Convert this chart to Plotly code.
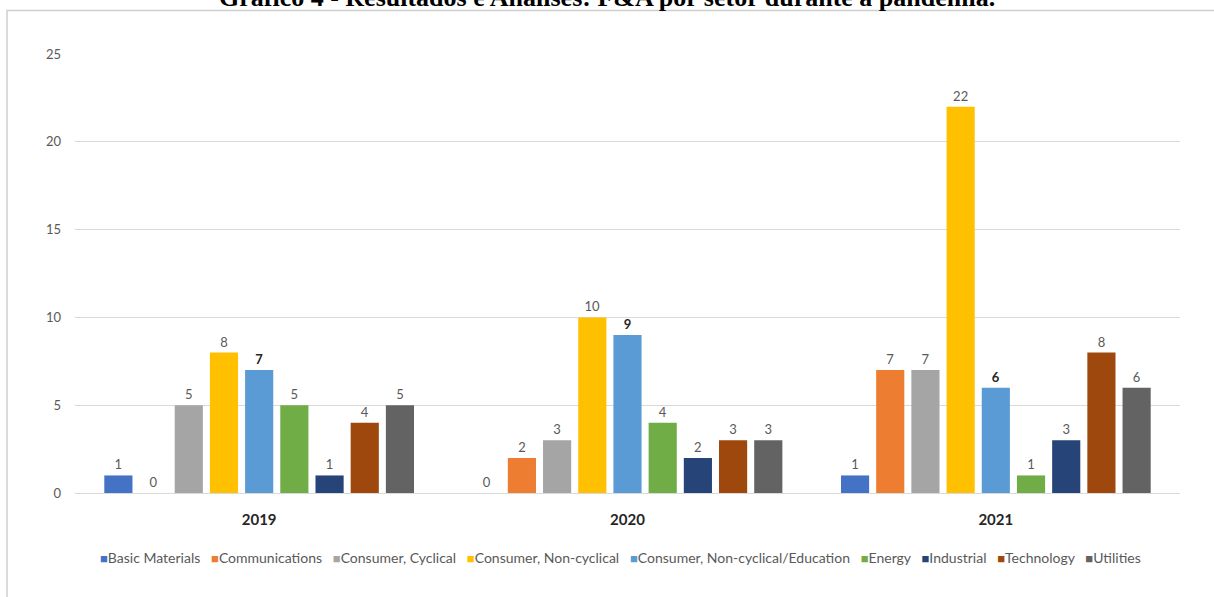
import plotly.graph_objects as go

years = ["2019", "2020", "2021"]
sectors = ["Basic Materials", "Communications", "Consumer, Cyclical",
           "Consumer, Non-cyclical", "Consumer, Non-cyclical/Education",
           "Energy", "Industrial", "Technology", "Utilities"]
basic_materials = [1, 0, 1]
communications = [0, 2, 7]
consumer_cyclical = [5, 3, 7]
consumer_noncyclical = [8, 10, 22]
education = [7, 9, 6]
energy = [5, 4, 1]
industrial = [1, 2, 3]
technology = [4, 3, 8]
utilities = [5, 3, 6]
series = [basic_materials, communications, consumer_cyclical, consumer_noncyclical,
          education, energy, industrial, technology, utilities]
colors = ["#4472C4", "#ED7D31", "#A5A5A5", "#FFC000", "#5B9BD5",
          "#70AD47", "#264478", "#9E480E", "#636363"]

FONT = "Lato, 'Open Sans', sans-serif"

L, R, T, B = 75, 1180, 54, 493
W, H = 1214, 597


def px_x(p):
    return (p - L) / (R - L)


def px_y(p):
    return (B - p) / (B - T)


fig = go.Figure()
for name, vals, col in zip(sectors, series, colors):
    bold = name == "Consumer, Non-cyclical/Education"
    fig.add_trace(go.Bar(
        x=years, y=vals, name=name, marker_color=col, marker_line_width=0,
        text=[f"<b>{v}</b>" if bold else str(v) for v in vals],
        textposition="outside", cliponaxis=False,
        textfont=dict(size=13, color="#262626" if bold else "#595959", family=FONT),
        showlegend=False,
    ))

# legend as one line of real text with coloured key squares
legend_html = "&nbsp;&nbsp;&nbsp;".join(
    f"<span style='color:{col};font-size:13px'>■</span>{name}"
    for name, col in zip(sectors, colors)
)
fig.add_annotation(text=legend_html, xref="paper", yref="paper",
                   x=px_x(620), y=px_y(557), xanchor="center", yanchor="middle",
                   showarrow=False, font=dict(size=14, color="#595959", family=FONT))

fig.update_layout(
    width=W, height=H,
    margin=dict(l=L, r=W - R, t=T, b=H - B, autoexpand=False),
    paper_bgcolor="white", plot_bgcolor="white",
    barmode="group", bargap=0.14, bargroupgap=0.2,
    showlegend=False,
    font=dict(family=FONT),
)
fig.update_yaxes(range=[0, 25], dtick=5, showgrid=True, gridcolor="#d9d9d9", gridwidth=1,
                 zeroline=True, zerolinecolor="#d9d9d9", zerolinewidth=1,
                 showline=False, ticks="", ticklabelstandoff=13,
                 tickfont=dict(size=13, color="#595959", family=FONT))
fig.update_xaxes(showgrid=False, showline=False, ticks="", ticklabelstandoff=16,
                 tickfont=dict(size=15, color="#262626", family=FONT),
                 tickprefix="<b>", ticksuffix="</b>")

# Frame around the chart area (cut by the page edges)
fig.add_shape(type="rect", xref="paper", yref="paper",
              x0=px_x(7), x1=px_x(1230), y0=px_y(620), y1=px_y(10.5),
              line=dict(color="#cfcfcf", width=1.5), fillcolor="rgba(0,0,0,0)", layer="below")

fig.add_annotation(text="<b>Gráfico 4 - Resultados e Análises: F&A por setor durante a pandemia.</b>",
                   xref="paper", yref="paper", x=px_x(607), y=px_y(14),
                   xanchor="center", yanchor="bottom", showarrow=False,
                   font=dict(family="'Liberation Serif', 'Times New Roman', serif", size=26, color="black"))

fig.write_html("out.html")
